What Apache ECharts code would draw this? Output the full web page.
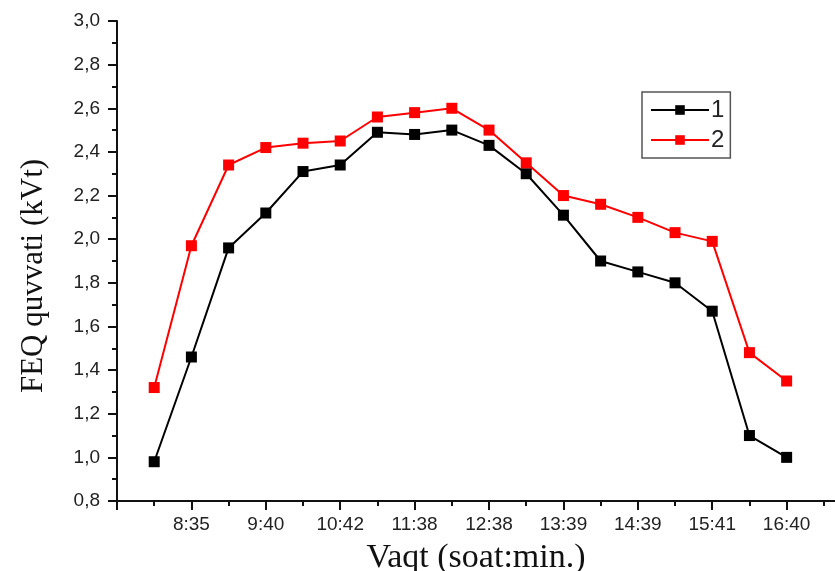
<!DOCTYPE html>
<html>
<head>
<meta charset="utf-8">
<script src="https://cdn.jsdelivr.net/npm/echarts@6/dist/echarts.min.js"></script>
<style>html,body{margin:0;padding:0;background:#fff}#c{width:835px;height:571px}</style>
</head>
<body>
<div id="c"></div>
<script>
// x positions of measurements (index along time axis)
var xIndex = [1,2,3,4,5,6,7,8,9,10,11,12,13,14,15,16,17,18];
// tick labels at even positions
var tickPositions = [2,4,6,8,10,12,14,16,18];
var tickLabels = ['8:35','9:40','10:42','11:38','12:38','13:39','14:39','15:41','16:40'];
var minorTickPositions = [1,3,5,7,9,11,13,15,17,19];
var majorTickPositions = [0,2,4,6,8,10,12,14,16,18];
// series values (kVt)
var series1 = [0.98,1.46,1.96,2.12,2.31,2.34,2.49,2.48,2.50,2.43,2.30,2.11,1.90,1.85,1.80,1.67,1.10,1.00];
var series2 = [1.32,1.97,2.34,2.42,2.44,2.45,2.56,2.58,2.60,2.50,2.35,2.20,2.16,2.10,2.03,1.99,1.48,1.35];
var seriesNames = ['1','2'];

function pairs(ys){ return ys.map(function(v,i){ return [xIndex[i], v]; }); }

var chart = echarts.init(document.getElementById('c'));
chart.setOption({
  animation:false,
  backgroundColor:'#fff',
  grid:{left:117, top:21, right:0, bottom:70, containLabel:false, outerBoundsMode:'none'},
  legend:{
    left:642, top:92, orient:'vertical',
    borderColor:'#555', borderWidth:1.5, padding:[6,6,6,8],
    itemWidth:58, itemHeight:12, itemGap:6,
    textStyle:{fontFamily:'Liberation Sans', fontSize:24, color:'#222', padding:[0,0,0,-3]},
    data:seriesNames
  },
  xAxis:[{
    type:'value', min:0, max:19.3, position:'bottom',
    axisLine:{show:true, lineStyle:{color:'#111', width:2}},
    axisTick:{show:true, inside:false, length:5, lineStyle:{color:'#111', width:2}, customValues:minorTickPositions},
    axisLabel:{show:true, margin:14, customValues:tickPositions, formatter:function(v){ var k=tickPositions.indexOf(Math.round(v)); return k>=0?tickLabels[k]:''; }, fontFamily:'Liberation Sans', fontSize:19, color:'#222'},
    splitLine:{show:false},
    name:'Vaqt (soat:min.)', nameLocation:'middle', nameGap:40,
    nameTextStyle:{fontFamily:'Liberation Serif', fontSize:34, color:'#111'}
  },{
    type:'value', min:0, max:19.3, position:'bottom',
    axisLine:{show:false},
    axisTick:{show:true, inside:false, length:9, lineStyle:{color:'#111', width:2}, customValues:majorTickPositions},
    axisLabel:{show:false},
    splitLine:{show:false}
  }],
  yAxis:{
    type:'value', min:0.8, max:3.0, interval:0.2,
    axisLine:{show:true, lineStyle:{color:'#111', width:2}},
    axisTick:{show:true, inside:false, length:9, lineStyle:{color:'#111', width:2}},
    minorTick:{show:true, splitNumber:2, length:5, lineStyle:{color:'#111', width:2}},
    axisLabel:{margin:17, formatter:function(v){ return v.toFixed(1).replace('.',','); }, fontFamily:'Liberation Sans', fontSize:19, color:'#222'},
    splitLine:{show:false},
    name:'FEQ quvvati (kVt)', nameLocation:'middle', nameGap:68,
    nameTextStyle:{fontFamily:'Liberation Serif', fontSize:31, color:'#111', padding:[0,30,0,0]}
  },
  series:[{
    name:seriesNames[0], type:'line', data:pairs(series1),
    symbol:'rect', symbolSize:11, color:'#000',
    lineStyle:{color:'#000', width:2}, itemStyle:{color:'#000'}
  },{
    name:seriesNames[1], type:'line', data:pairs(series2),
    symbol:'rect', symbolSize:11, color:'#ff0000',
    lineStyle:{color:'#ff0000', width:2}, itemStyle:{color:'#ff0000'}
  }]
});
</script>
</body>
</html>
